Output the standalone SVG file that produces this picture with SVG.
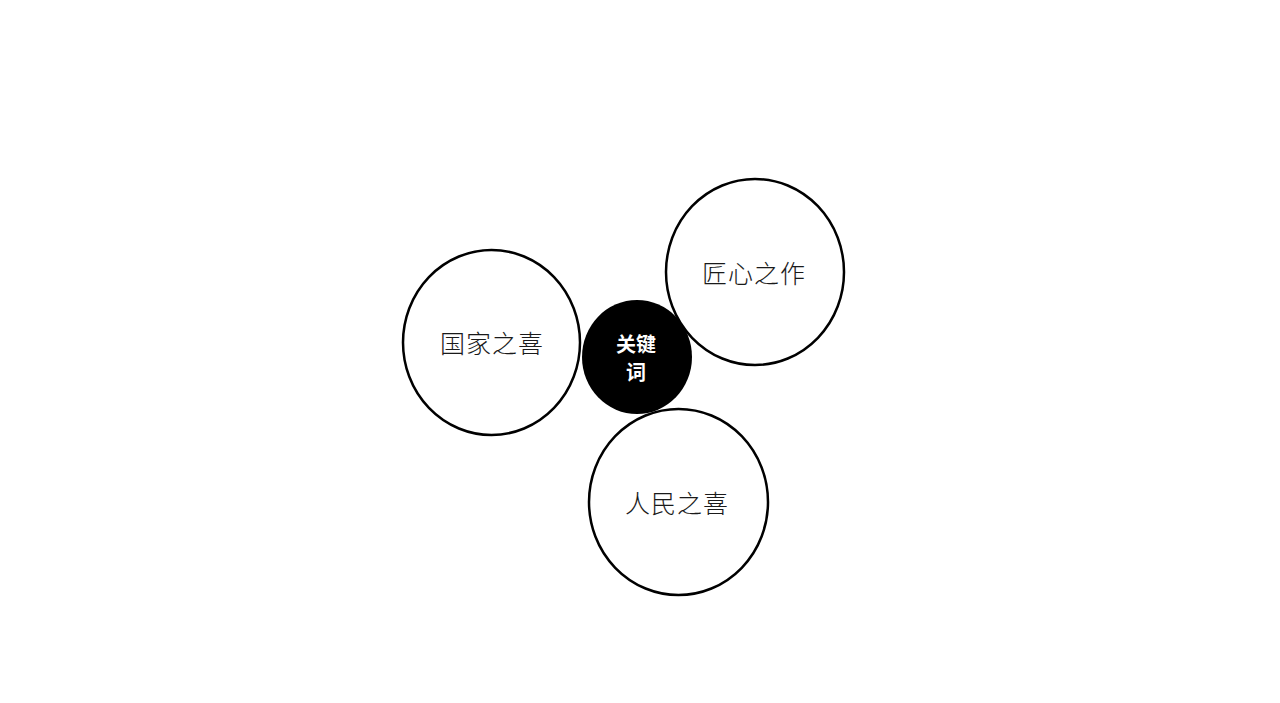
<svg xmlns="http://www.w3.org/2000/svg" width="1280" height="703" viewBox="0 0 1280 703">
<style>
.ring{fill:#fff;stroke:#000;stroke-width:2.5}
.lbl{font-family:"Noto Sans CJK SC","Noto Sans CJK JP",sans-serif;font-size:25px;font-weight:300;fill:#1a1a1a;text-anchor:middle;dominant-baseline:central;letter-spacing:1px}
.key{font-family:"Noto Sans CJK SC","Noto Sans CJK JP",sans-serif;font-size:20px;font-weight:700;fill:#fff;text-anchor:middle;dominant-baseline:central}
</style>
<rect width="1280" height="703" fill="#fff"/>
<g id="center">
<ellipse cx="637" cy="357" rx="55" ry="57" fill="#000"/>
<text class="key" x="636" y="343">关键</text>
<text class="key" x="636" y="371">词</text>
</g>
<g id="node-guojia">
<ellipse class="ring" cx="491.5" cy="342.5" rx="88.5" ry="92.5"/>
<text class="lbl" x="492" y="342">国家之喜</text>
</g>
<g id="node-jiangxin">
<ellipse class="ring" cx="755" cy="272" rx="89" ry="93"/>
<text class="lbl" x="754" y="272">匠心之作</text>
</g>
<g id="node-renmin">
<ellipse class="ring" cx="678.5" cy="502" rx="89.5" ry="93"/>
<text class="lbl" x="677" y="502">人民之喜</text>
</g>
<g id="connectors"></g>
</svg>
